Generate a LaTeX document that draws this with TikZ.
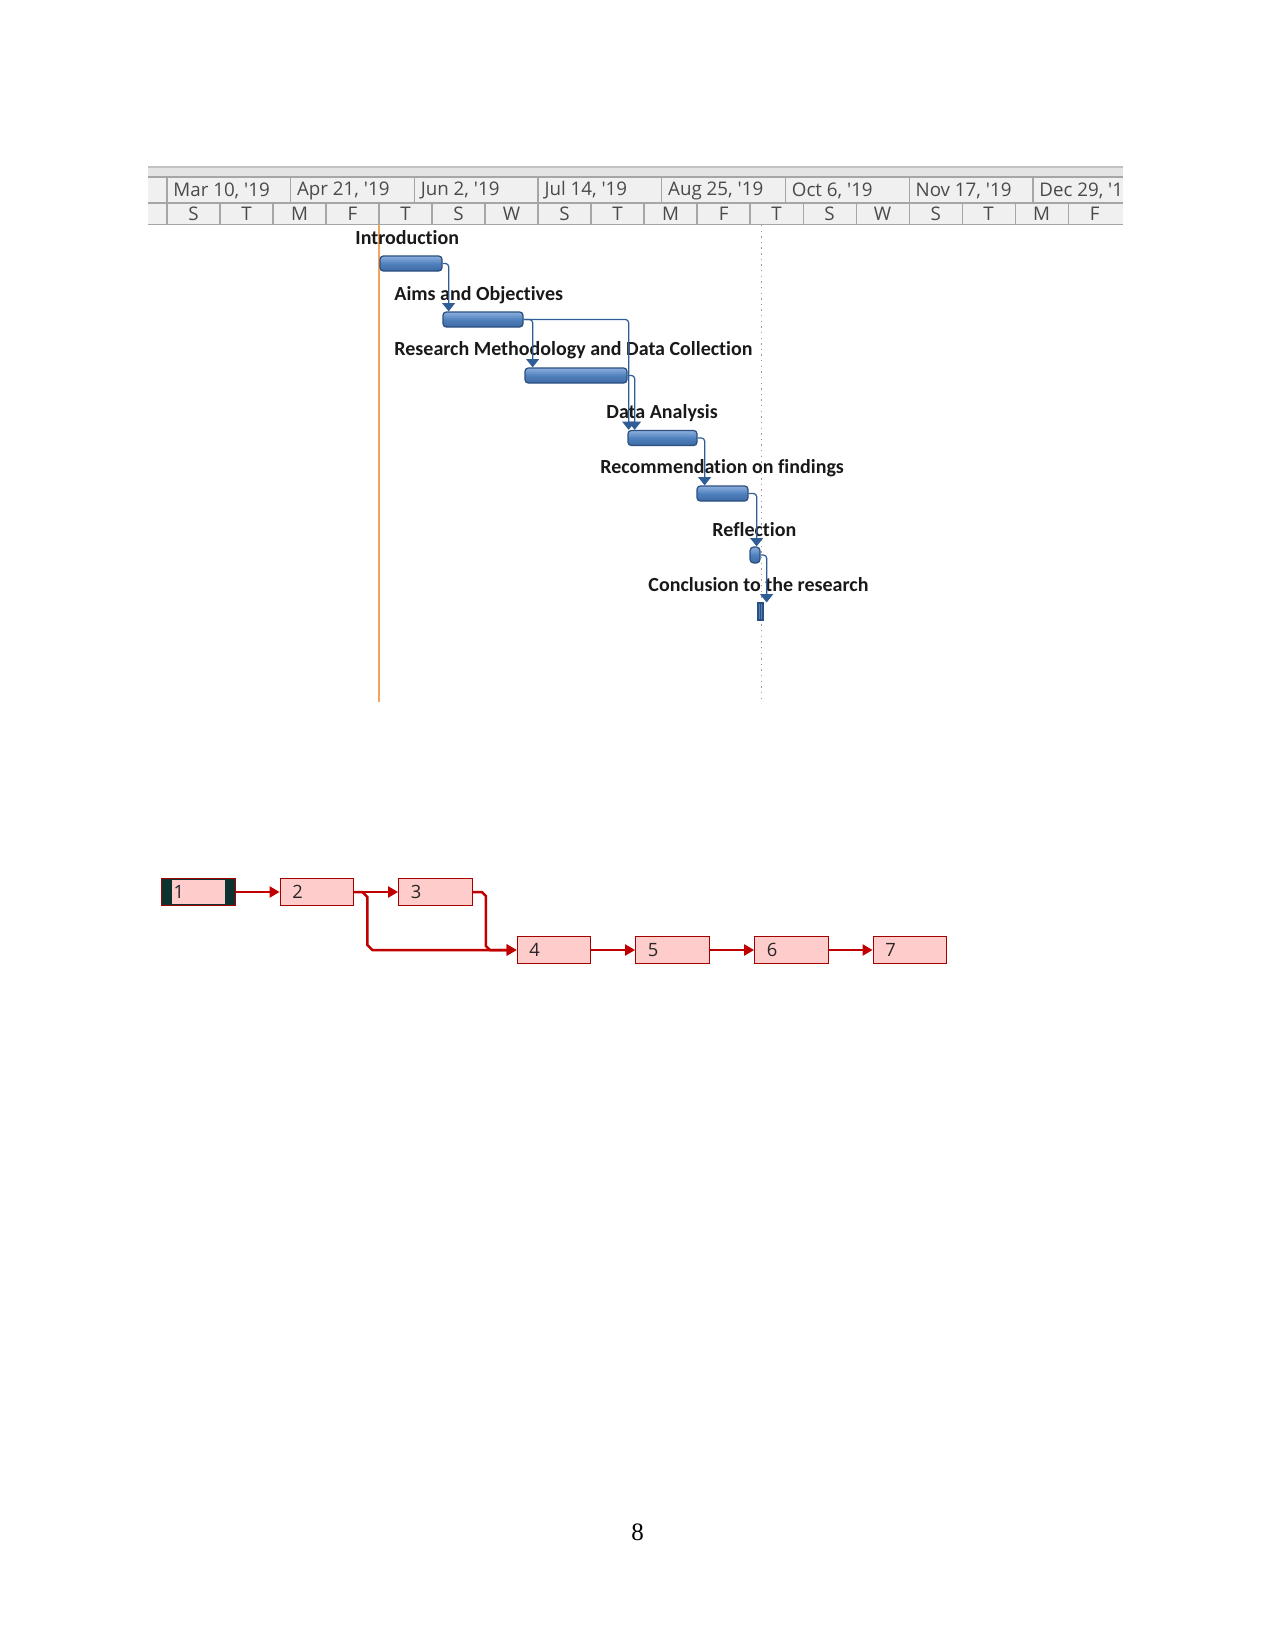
\documentclass[tikz,border=0pt]{standalone}
\usepackage{fontspec}
\setmainfont{Liberation Serif}
\newfontfamily\lblfont{Carlito}[Ligatures=NoCommon]
\newfontfamily\hdrfont{Open Sans}[Ligatures=TeXOff]
\usetikzlibrary{arrows.meta}
\definecolor{hdrbg}{HTML}{F0F0F0}
\definecolor{hdrband}{HTML}{E4E4E4}
\definecolor{hdrline}{HTML}{A6A6A6}
\definecolor{hdrtxt}{HTML}{4A4A4A}
\definecolor{barhi}{HTML}{8DB0DE}
\definecolor{barmid}{HTML}{4F81BD}
\definecolor{barlo}{HTML}{3D6AA3}
\definecolor{barbd}{HTML}{2C4F80}
\definecolor{connc}{HTML}{2F5E96}
\definecolor{todayc}{HTML}{F2A45A}
\definecolor{netred}{HTML}{C00000}
\definecolor{netfill}{HTML}{FFCCCC}
\definecolor{netdark}{HTML}{0D3330}
\def\u{0.48pt}
\tikzset{
  bar/.style={draw=barbd, line width=0.6pt, rounded corners=1.6pt,
    top color=barhi, bottom color=barlo, middle color=barmid,
    minimum height=15*\u, inner sep=0pt},
  tlabel/.style={font=\lblfont\bfseries\fontsize{9.6}{11}\selectfont, anchor=west, inner sep=0pt, text=black!90},
  conn/.style={draw=connc, line width=0.6pt, rounded corners=1.5pt,
    -{Triangle[length=4pt,width=6.2pt]}},
  hdrtext/.style={font=\hdrfont\fontsize{9}{11}\selectfont, text=hdrtxt, inner sep=0pt},
  nbox/.style={draw=netred!85!black, line width=0.6pt, fill=netfill, minimum height=27.5*\u,
    text width=49.5*\u, inner xsep=12*\u, inner ysep=0pt, align=left,
    font=\hdrfont\fontsize{8.8}{10}\selectfont, text=black!85},
  narrow/.style={draw=netred, line width=1.2pt, -{Triangle[length=4.8pt,width=5.2pt]}}
}
\begin{document}
\begin{tikzpicture}[x=0.48pt,y=-0.48pt]
\useasboundingbox (0,0) rectangle (1275,1651);

% ---------------- timescale header ----------------
\begin{scope}
\clip (148,166) rectangle (1123,226);
\fill[hdrband] (148,167) rectangle (1123,177);
\fill[hdrbg] (148,177) rectangle (1123,225);
\draw[hdrline!70, line width=0.5pt] (148,167) -- (1123,167);
\draw[hdrline, line width=0.6pt] (148,177) -- (1123,177);
\draw[hdrline, line width=0.6pt] (148,203) -- (1123,203);
\draw[hdrline, line width=0.9pt] (148,224.5) -- (1123,224.5);
\draw[hdrline, line width=0.6pt] (167,177) -- (167,224);
\foreach \d [count=\i from 0] in {{Mar 10, '19},{Apr 21, '19},{Jun 2, '19},{Jul 14, '19},{Aug 25, '19},{Oct 6, '19},{Nov 17, '19},{Dec 29, '19}}{
  \draw[hdrline, line width=0.6pt] ({167+123.7*\i},177) -- ({167+123.7*\i},203);
  \node[hdrtext, anchor=west] (dt\i) at ({167+123.7*\i+6},190.5) {\d};
}
\foreach \d [count=\j from 0] in {S,T,M,F,T,S,W,S,T,M,F,T,S,W,S,T,M,F}{
  \draw[hdrline, line width=0.6pt] ({167+53.01*\j},203) -- ({167+53.01*\j},224);
  \node[hdrtext] (dy\j) at ({167+53.01*(\j+0.5)},213.5) {\d};
}
\end{scope}

% ---------------- vertical markers ----------------
\draw[todayc, line width=0.8pt] (379,225) -- (379,702);
\draw[gray!80, line width=0.7pt, dotted] (761.5,225) -- (761.5,702);

% ---------------- task labels ----------------
\node[tlabel] (l1) at (355,238) {Introduction};
\node[tlabel] (l2) at (394,295) {Aims and Objectives};
\node[tlabel] (l3) at (394,350) {Research Methodology and Data Collection};
\node[tlabel] (l4) at (606,413) {Data Analysis};
\node[tlabel] (l5) at (600,468) {Recommendation on findings};
\node[tlabel] (l6) at (712,530) {Reflection};
\node[tlabel] (l7) at (648,585) {Conclusion to the research};

% ---------------- bars ----------------
\node[bar, minimum width=62*\u] (b1) at (411,263.5) {};
\node[bar, minimum width=80*\u] (b2) at (483,319.5) {};
\node[bar, minimum width=102*\u] (b3) at (576,375.5) {};
\node[bar, minimum width=69*\u] (b4) at (662.5,438) {};
\node[bar, minimum width=51*\u] (b5) at (722.5,493.5) {};
\node[bar, minimum width=10*\u, minimum height=16*\u, rounded corners=1.8pt] (b6) at (755,555) {};
\node[draw=barbd, fill=barmid, line width=0.5pt, minimum width=5*\u, minimum height=17*\u, inner sep=0pt] (b7) at (760.5,611.5) {};
\draw[barbd, line width=0.4pt] (b7.north) -- (b7.south);

% ---------------- connectors ----------------
\draw[conn] (b1.east) -| ([xshift=6*\u]b1.east |- b2.north);
\draw[conn] (b2.east) -| ([xshift=9*\u]b2.east |- b3.north);
\draw[conn] (b2.east) -| ([xshift=105*\u]b2.east |- b4.north);
\draw[conn] (b3.east) -| ([xshift=7*\u]b3.east |- b4.north);
\draw[conn] (b4.east) -| ([xshift=7*\u]b4.east |- b5.north);
\draw[conn] (b5.east) -| ([xshift=8*\u]b5.east |- b6.north);
\draw[conn] (b6.east) -| ([xshift=6*\u]b6.east |- b7.north);

% ---------------- network diagram ----------------
\node[nbox, fill=netdark] (n1) at (198.5,892) {};
\fill[netfill] ([xshift=11*\u,yshift=-2*\u]n1.north west) rectangle ([xshift=-11*\u,yshift=2*\u]n1.south east);
\node[anchor=west, inner sep=0pt, font=\hdrfont\fontsize{8.8}{10}\selectfont, text=black!85] (n1t) at ([xshift=12*\u]n1.west) {1};
\node[nbox] (n2) at (317,892) {2};
\node[nbox] (n3) at (435.5,892) {3};
\node[nbox] (n4) at (554,950) {4};
\node[nbox] (n5) at (672.5,950) {5};
\node[nbox] (n6) at (791.5,950) {6};
\node[nbox] (n7) at (910,950) {7};

\draw[narrow] (n1) -- (n2);
\draw[narrow] (n2) -- (n3);
\draw[narrow] (n2.east) -- ++(8,0) -- ++(5,5) -- ++(0,48) -- ++(5,5) -- (n4.west);
\draw[narrow] (n3.east) -- ++(9,0) -- ++(4,4) -- ++(0,50) -- ++(4,4) -- (n4.west);
\draw[narrow] (n4) -- (n5);
\draw[narrow] (n5) -- (n6);
\draw[narrow] (n6) -- (n7);

% ---------------- page number ----------------
\node[font=\fontsize{12}{14}\selectfont, inner sep=0pt] (pg) at (637.5,1532) {8};
\end{tikzpicture}
\end{document}
